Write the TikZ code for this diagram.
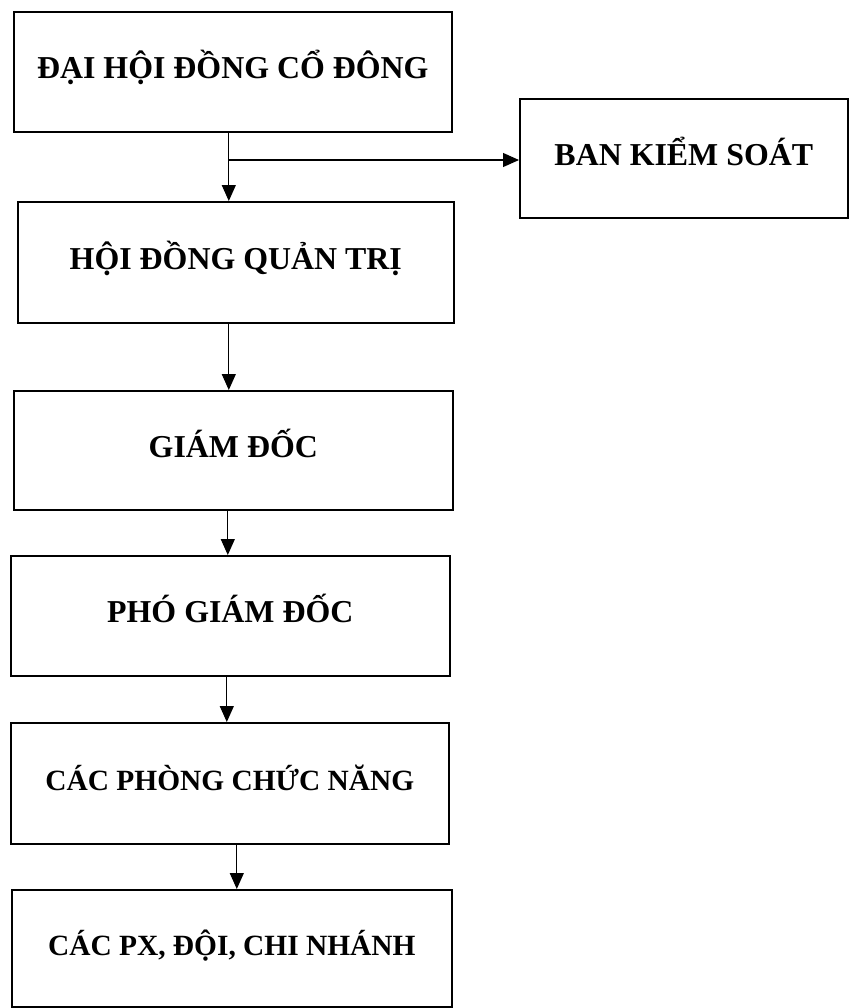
\documentclass[tikz,border=0pt]{standalone}
\usepackage{fontspec}
\setmainfont{Liberation Serif}
\usetikzlibrary{arrows.meta,calc}
\tikzset{
  orgbox/.style={draw, line width=1.6bp, anchor=north west, inner sep=0pt,
    font=\fontsize{32}{38}\selectfont\bfseries, text height=21bp, text depth=7bp},
  smalltext/.style={font=\fontsize{29.5}{35}\selectfont\bfseries},
  arr/.style={line width=1.2bp, -{Triangle[length=16bp,width=14bp]}}
}
\begin{document}
\begin{tikzpicture}[x=1bp,y=-1bp]
\useasboundingbox (0,0) rectangle (849,1008);
\node[orgbox, minimum width=438bp, minimum height=120bp] (b1) at (13,11) {ĐẠI HỘI ĐỒNG CỔ ĐÔNG};
\node[orgbox, minimum width=328bp, minimum height=119bp] (ban) at (519,98) {BAN KIỂM SOÁT};
\node[orgbox, minimum width=436bp, minimum height=121bp] (b2) at (17,201) {HỘI ĐỒNG QUẢN TRỊ};
\node[orgbox, minimum width=439bp, minimum height=119bp] (b3) at (13,390) {GIÁM ĐỐC};
\node[orgbox, minimum width=439bp, minimum height=120bp] (b4) at (10,555) {PHÓ GIÁM ĐỐC};
\node[orgbox, smalltext, minimum width=438bp, minimum height=121bp] (b5) at (10,722) {CÁC PHÒNG CHỨC NĂNG};
\node[orgbox, smalltext, minimum width=440bp, minimum height=117bp] (b6) at (11,889) {CÁC PX, ĐỘI, CHI NHÁNH};
\coordinate (j) at (228,160);
\draw[arr] ([xshift=-4bp]b1.south) -- ([xshift=-4bp]b1.south |- b2.north);
\draw[arr] (j) -- (j -| ban.west);
\draw[arr] ([xshift=-7bp]b2.south) -- ([xshift=-7bp]b2.south |- b3.north);
\draw[arr] ([xshift=-5.5bp]b3.south) -- ([xshift=-5.5bp]b3.south |- b4.north);
\draw[arr] ([xshift=-3.5bp]b4.south) -- ([xshift=-3.5bp]b4.south |- b5.north);
\draw[arr] ([xshift=7bp]b5.south) -- ([xshift=7bp]b5.south |- b6.north);
\end{tikzpicture}
\end{document}
